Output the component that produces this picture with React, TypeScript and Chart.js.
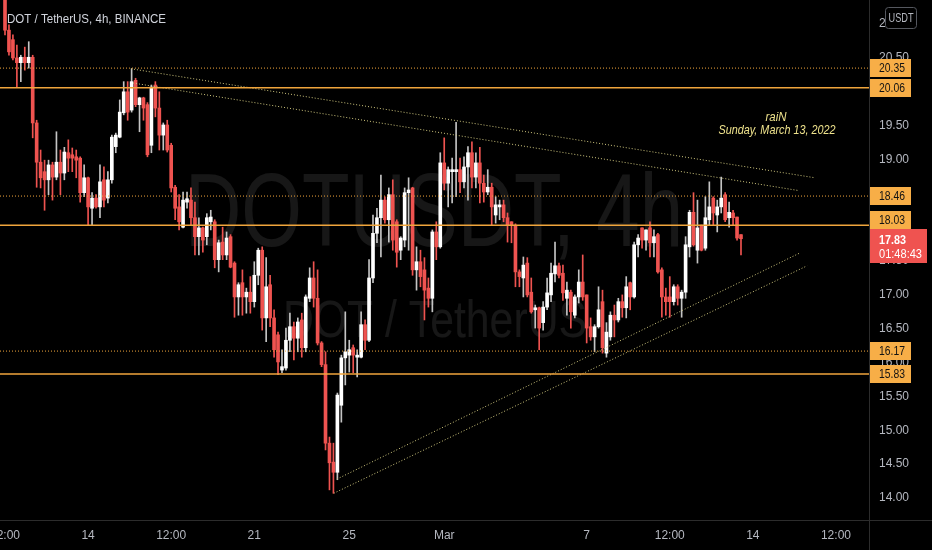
import React, { useEffect, useRef } from "react";
import { Chart, registerables } from "chart.js";

Chart.register(...registerables);

// ---- 4h candles, DOT/USDT (index 0 = Feb 10 12:00) ----
const opens = [
  21.47, 20.91, 20.77, 20.50, 20.43, 20.51, 20.43, 20.51, 19.54, 18.96,
  18.82, 18.70, 18.92, 18.74, 18.96, 18.80, 19.10, 19.07, 19.04, 19.02,
  18.51, 18.73, 18.28, 18.43, 18.30, 18.70, 18.43, 18.70, 19.19, 19.33,
  19.69, 20.00, 19.73, 20.17, 19.81, 19.91, 19.81, 19.21, 20.10, 19.76,
  19.36, 19.51, 19.21, 18.59, 18.30, 18.00, 18.37, 18.40, 18.14, 17.86,
  17.99, 17.86, 18.08, 18.08, 17.52, 17.78, 17.59, 17.86, 17.47, 16.97,
  17.18, 16.97, 17.04, 16.90, 17.29, 17.66, 16.66, 17.15, 16.66, 16.41,
  15.89, 15.92, 16.33, 16.53, 16.36, 16.63, 16.22, 16.95, 17.25, 16.95,
  16.29, 15.97, 14.81, 14.53, 14.38, 15.37, 16.07, 16.11, 16.22, 16.08,
  16.08, 16.56, 16.33, 17.25, 17.91, 18.14, 18.40, 18.11, 18.48, 18.08,
  17.66, 17.81, 18.51, 18.58, 17.37, 17.49, 17.37, 17.10, 16.95, 17.93,
  17.71, 18.95, 18.65, 18.82, 18.82, 18.85, 18.67, 18.89, 19.10, 18.74,
  18.95, 18.65, 18.52, 18.59, 18.18, 18.30, 18.33, 18.14, 18.08, 18.03,
  17.34, 17.25, 17.47, 17.04, 16.78, 16.81, 16.59, 16.82, 17.00, 17.31,
  17.43, 17.32, 16.95, 17.04, 16.70, 16.97, 17.19, 17.00, 16.53, 16.38,
  16.53, 16.90, 16.14, 16.38, 16.70, 16.63, 16.90, 16.81, 17.18, 16.97,
  17.74, 17.99, 17.81, 17.99, 17.77, 17.89, 17.37, 16.97, 16.97, 16.90,
  17.12, 16.95, 17.04, 17.71, 18.22, 17.66, 18.03, 17.69, 18.11, 18.43,
  18.18, 18.30, 18.48, 18.14, 18.21, 18.15, 17.89,
];
const closes = [
  20.91, 20.59, 20.50, 20.43, 20.51, 20.43, 20.51, 19.54, 18.96, 18.73,
  18.70, 18.92, 18.74, 18.96, 18.80, 19.11, 19.02, 19.02, 18.99, 18.51,
  18.73, 18.30, 18.43, 18.30, 18.67, 18.40, 18.70, 19.33, 19.36, 19.70,
  20.00, 19.70, 20.15, 19.81, 19.91, 19.76, 19.07, 20.07, 19.76, 19.36,
  19.51, 19.14, 18.58, 18.28, 18.08, 18.40, 18.42, 18.14, 17.86, 17.99,
  17.81, 18.14, 18.15, 17.52, 17.77, 17.59, 17.84, 17.41, 16.97, 17.15,
  16.97, 17.04, 16.90, 17.29, 17.66, 16.66, 17.12, 16.66, 16.19, 16.01,
  15.94, 16.33, 16.53, 16.36, 16.60, 16.22, 16.97, 17.25, 16.95, 16.29,
  15.97, 14.81, 14.52, 14.38, 15.52, 16.07, 16.16, 16.19, 16.11, 16.11,
  16.56, 16.33, 17.25, 17.91, 18.14, 18.40, 18.11, 18.48, 17.81, 17.63,
  17.84, 18.51, 18.55, 17.37, 17.49, 17.27, 17.07, 16.95, 17.93, 17.71,
  18.95, 18.65, 18.85, 18.85, 18.85, 18.67, 18.89, 19.10, 18.74, 18.95,
  18.65, 18.52, 18.59, 18.30, 18.33, 18.33, 18.14, 18.03, 18.03, 17.34,
  17.27, 17.44, 17.00, 16.75, 16.81, 16.51, 16.82, 17.03, 17.32, 17.43,
  17.29, 17.03, 17.07, 16.75, 16.97, 17.19, 16.97, 16.51, 16.38, 16.53,
  16.78, 16.22, 16.45, 16.70, 16.63, 16.90, 16.81, 17.12, 16.97, 17.74,
  17.84, 17.81, 17.96, 17.77, 17.86, 17.34, 16.97, 16.90, 16.90, 17.12,
  16.95, 17.04, 17.74, 18.22, 17.74, 17.99, 17.66, 18.14, 18.30, 18.21,
  18.30, 18.43, 18.11, 18.22, 18.14, 17.84, 17.83,
];
const highs = [
  21.58, 20.99, 20.84, 20.69, 20.54, 20.66, 20.74, 20.54, 19.58, 19.14,
  18.99, 18.99, 18.96, 19.41, 19.14, 19.18, 19.29, 19.17, 19.14, 19.04,
  18.92, 18.74, 18.51, 18.48, 18.92, 18.89, 18.82, 19.36, 19.39, 19.88,
  20.15, 20.15, 20.34, 20.20, 19.92, 19.92, 19.84, 20.10, 20.15, 20.00,
  19.54, 19.58, 19.24, 18.62, 18.48, 18.52, 18.52, 18.58, 18.37, 18.14,
  18.00, 18.20, 18.25, 18.11, 17.81, 18.00, 17.93, 17.89, 17.49, 17.18,
  17.37, 17.10, 17.27, 17.49, 17.69, 17.71, 17.55, 17.29, 16.78, 16.45,
  16.19, 16.51, 16.73, 16.60, 16.66, 16.73, 17.00, 17.40, 17.49, 17.37,
  16.31, 16.16, 14.90, 14.81, 15.55, 16.11, 16.75, 16.33, 16.26, 16.19,
  16.75, 16.63, 17.52, 18.18, 18.28, 18.77, 18.45, 18.58, 18.70, 18.11,
  17.86, 18.58, 18.73, 18.59, 17.71, 17.66, 17.55, 17.25, 17.96, 18.08,
  19.10, 19.32, 18.89, 19.02, 19.55, 19.02, 19.04, 19.19, 19.26, 19.10,
  19.18, 18.77, 18.85, 18.65, 18.45, 18.40, 18.40, 18.21, 18.08, 18.05,
  17.37, 17.56, 17.55, 17.25, 16.85, 16.82, 16.90, 17.25, 17.47, 17.78,
  17.47, 17.44, 17.19, 17.07, 17.00, 17.37, 17.59, 17.00, 16.66, 16.56,
  17.12, 17.07, 16.59, 16.75, 16.85, 16.95, 17.00, 17.27, 17.19, 17.78,
  17.89, 17.99, 17.96, 18.08, 17.96, 17.91, 17.40, 17.10, 17.27, 17.15,
  17.15, 17.07, 17.86, 18.25, 18.51, 18.40, 18.03, 18.45, 18.67, 18.45,
  18.40, 18.74, 18.51, 18.37, 18.25, 18.15, 17.89,
];
const lows = [
  20.84, 20.54, 20.47, 20.06, 20.15, 20.32, 20.35, 19.32, 18.59, 18.58,
  18.25, 18.48, 18.40, 18.70, 18.48, 18.70, 18.82, 18.82, 18.73, 18.37,
  18.45, 18.03, 18.03, 18.28, 18.14, 18.30, 18.36, 18.65, 19.10, 19.32,
  19.66, 19.58, 19.70, 19.78, 19.41, 19.58, 19.04, 19.10, 19.63, 19.14,
  19.14, 19.11, 18.52, 18.11, 17.96, 17.99, 18.28, 18.03, 17.59, 17.59,
  17.63, 17.74, 17.96, 17.40, 17.34, 17.52, 17.52, 17.40, 16.67, 16.70,
  16.70, 16.73, 16.73, 16.82, 17.15, 16.48, 16.31, 16.53, 16.08, 15.82,
  15.85, 15.89, 16.16, 16.04, 16.16, 16.08, 16.16, 16.90, 16.82, 16.26,
  15.94, 14.71, 14.12, 14.07, 14.27, 15.12, 15.67, 15.86, 15.85, 15.79,
  16.07, 16.19, 16.31, 17.18, 17.77, 17.56, 18.06, 17.78, 17.66, 17.41,
  17.52, 17.71, 17.66, 17.29, 17.07, 17.12, 16.63, 16.82, 16.75, 17.52,
  17.69, 18.55, 18.30, 18.36, 18.45, 18.51, 18.58, 18.40, 18.58, 18.58,
  18.36, 18.37, 18.48, 18.03, 18.06, 18.11, 18.08, 17.78, 17.77, 17.12,
  17.12, 16.97, 16.97, 16.73, 16.51, 16.19, 16.48, 16.78, 16.90, 17.19,
  17.25, 16.92, 16.70, 16.51, 16.66, 16.88, 16.92, 16.29, 16.33, 16.16,
  16.51, 16.14, 16.08, 16.33, 16.38, 16.60, 16.67, 16.66, 16.78, 16.95,
  17.56, 17.69, 17.66, 17.56, 17.56, 17.32, 16.67, 16.70, 16.67, 16.85,
  16.85, 16.67, 16.95, 17.56, 17.72, 17.47, 17.65, 17.66, 18.03, 18.03,
  17.93, 18.21, 18.08, 18.00, 18.03, 17.81, 17.59,
];

// ---- axis ticks ----
const timeTickIndex = [0, 21, 42, 63, 87, 111, 147, 168, 189, 210];
const timeTickText = ["12:00", "14", "12:00", "21", "25", "Mar", "7", "12:00", "14", "12:00"];
const priceTicks = [14, 14.5, 15, 15.5, 16, 16.5, 17, 17.5, 18, 18.5, 19, 19.5, 20, 20.5, 21];

// ---- drawings (index, price) ----
const solidLevels = [20.06, 18.03, 15.83];
const dottedLevels = [20.35, 18.46, 16.17];
const trendUpperA = [[31.84, 20.34], [204.7, 18.73]];
const trendUpperB = [[32.35, 20.13], [200.7, 18.54]];
const trendLowerA = [[83.9, 14.28], [200.9, 17.62]];
const trendLowerB = [[83.1, 14.07], [202.7, 17.43]];

const lastPrice = 17.83;
const countdown = "01:48:43";
const titleText = "DOT / TetherUS, 4h, BINANCE";
const watermarkMain = "DOTUSDT, 4h";
const watermarkSub = "DOT / TetherUS";
const noteAuthor = "raiN";
const noteDate = "Sunday, March 13, 2022";
const currencyText = "USDT";

const X_MIN = -1.264;
const X_MAX = 218.35;
const Y_MIN = 13.675;
const Y_MAX = 21.356;

const BG = "#000000";
const UP = "#ffffff";
const UP_WICK = "#c4c4c4";
const DOWN = "#ef5350";
const ORANGE_LINE = "#f0a53c";
const ORANGE_TAG = "#f7ae47";
const TREND = "#cfc77e";
const TICK = "#b5b8c0";
const SEP = "#2c2c2c";
const NOTE = "#eee28c";
const AXIS_FONT = "'Liberation Sans', sans-serif";
const TEXT_FONT = "'Liberation Sans', sans-serif";

function fitText(ctx: CanvasRenderingContext2D, text: string, x: number, y: number, w: number, align: "left" | "center", baseline: CanvasTextBaseline = "alphabetic") {
  const m = ctx.measureText(text).width || 1;
  ctx.save();
  ctx.translate(x, y);
  ctx.scale(w / m, 1);
  ctx.textAlign = align;
  ctx.textBaseline = baseline;
  ctx.fillText(text, 0, 0);
  ctx.restore();
}

const overlayPlugin = {
  id: "overlay",
  beforeDraw(chart: any) {
    const { ctx, width, height } = chart;
    ctx.save();
    ctx.fillStyle = BG;
    ctx.fillRect(0, 0, width, height);
    ctx.restore();
  },
  beforeDatasetsDraw(chart: any) {
    const ctx = chart.ctx as CanvasRenderingContext2D;
    ctx.save();
    ctx.fillStyle = "rgba(255,255,255,0.09)";
    ctx.font = `103px ${TEXT_FONT}`;
    fitText(ctx, watermarkMain, 185, 246, 498, "left");
    ctx.font = `52px ${TEXT_FONT}`;
    fitText(ctx, watermarkSub, 283, 337, 304, "left");
    ctx.restore();
  },
  afterDraw(chart: any) {
    const ctx = chart.ctx as CanvasRenderingContext2D;
    const yS = chart.scales.y;
    const area = chart.chartArea;
    ctx.save();
    // separators
    ctx.strokeStyle = SEP;
    ctx.lineWidth = 1;
    ctx.beginPath();
    ctx.moveTo(Math.round(area.right) + 0.5, 0);
    ctx.lineTo(Math.round(area.right) + 0.5, chart.height);
    ctx.moveTo(0, Math.round(area.bottom) + 0.5);
    ctx.lineTo(chart.width, Math.round(area.bottom) + 0.5);
    ctx.stroke();

    // title
    ctx.fillStyle = "#d1d4dc";
    ctx.font = `13px ${TEXT_FONT}`;
    fitText(ctx, titleText, 7, 23, 159, "left");

    // note
    ctx.fillStyle = NOTE;
    ctx.font = `italic 13px ${TEXT_FONT}`;
    fitText(ctx, noteAuthor, 776, 121, 21, "center");
    fitText(ctx, noteDate, 777, 133.5, 117, "center");

    // currency box
    ctx.fillStyle = BG;
    ctx.strokeStyle = "#55585f";
    ctx.beginPath();
    (ctx as any).roundRect(885.5, 7.5, 31, 21, 3);
    ctx.fill();
    ctx.stroke();
    ctx.fillStyle = TICK;
    ctx.font = `12px ${AXIS_FONT}`;
    fitText(ctx, currencyText, 901, 18.5, 25, "center", "middle");

    // last price tag geometry
    const left = Math.round(area.right) + 1;
    const yP = yS.getPixelForValue(lastPrice);
    const redTop = yP - 10;
    const redBottom = yP + 24;

    // level tags
    const levels = [...solidLevels, ...dottedLevels];
    ctx.font = `13px ${AXIS_FONT}`;
    levels.forEach((v) => {
      let c = yS.getPixelForValue(v);
      if (c + 9 > redTop && c - 9 < redBottom) {
        c = c < yP + 7 ? redTop - 9 : redBottom + 9;
      }
      ctx.fillStyle = ORANGE_TAG;
      ctx.fillRect(left, Math.round(c - 9), 41, 18);
      ctx.fillStyle = "#131313";
      fitText(ctx, v.toFixed(2), 879, Math.round(c) + 0.5, 26, "left", "middle");
    });

    ctx.fillStyle = DOWN;
    ctx.fillRect(left, Math.round(redTop), 57, 34);
    ctx.fillStyle = "#ffffff";
    ctx.font = `bold 13px ${AXIS_FONT}`;
    fitText(ctx, lastPrice.toFixed(2), 879, Math.round(yP) + 1.5, 27, "left", "middle");
    ctx.font = `13px ${AXIS_FONT}`;
    fitText(ctx, countdown, 879, Math.round(yP) + 15.5, 43, "left", "middle");
    ctx.restore();
  },
};

export default function App() {
  const ref = useRef<HTMLCanvasElement>(null);

  useEffect(() => {
    document.body.style.margin = "0";
    document.body.style.background = BG;
    const canvas = ref.current;
    if (!canvas) return;

    const isUp = closes.map((c, i) => c >= opens[i]);
    const bodyColors = isUp.map((u) => (u ? UP : DOWN));
    const wickColors = isUp.map((u) => (u ? UP_WICK : DOWN));

    const levelLine = (v: number, dotted: boolean) => ({
      type: "line",
      data: [{ x: X_MIN, y: v }, { x: X_MAX, y: v }],
      borderColor: ORANGE_LINE,
      borderWidth: dotted ? 1 : 1.5,
      borderDash: dotted ? [1, 2] : [],
      pointRadius: 0,
      pointHoverRadius: 0,
      fill: false,
      order: 0,
    });
    const trendLine = (pts: number[][]) => ({
      type: "line",
      data: pts.map((p) => ({ x: p[0], y: p[1] })),
      borderColor: TREND,
      borderWidth: 1,
      borderDash: [1, 2],
      pointRadius: 0,
      pointHoverRadius: 0,
      fill: false,
      order: 0,
    });

    const chart = new Chart(canvas, {
      type: "bar",
      data: {
        datasets: [
          {
            label: "wicks",
            data: lows.map((l, i) => ({ x: i, y: [l, highs[i]] })),
            backgroundColor: wickColors,
            borderWidth: 0,
            barThickness: 1,
            grouped: false,
            order: 2,
          },
          {
            label: "bodies",
            data: opens.map((o, i) => ({ x: i, y: [o, closes[i]] })),
            backgroundColor: bodyColors,
            borderWidth: 0,
            barThickness: 3,
            minBarLength: 1,
            grouped: false,
            order: 1,
          },
          ...solidLevels.map((v) => levelLine(v, false)),
          ...dottedLevels.map((v) => levelLine(v, true)),
          trendLine(trendUpperA),
          trendLine(trendUpperB),
          trendLine(trendLowerA),
          trendLine(trendLowerB),
        ] as any,
      },
      options: {
        animation: false,
        responsive: false,
        maintainAspectRatio: false,
        devicePixelRatio: 1,
        events: [],
        layout: { padding: 0 },
        plugins: { legend: { display: false }, tooltip: { enabled: false } },
        scales: {
          x: {
            type: "linear",
            min: X_MIN,
            max: X_MAX,
            offset: false,
            grid: { display: false, drawTicks: false },
            border: { display: false },
            afterBuildTicks: (s: any) => {
              s.ticks = timeTickIndex.map((v) => ({ value: v }));
            },
            afterFit: (s: any) => {
              s.height = 30;
              s.paddingLeft = 0;
              s.paddingRight = 0;
            },
            ticks: {
              autoSkip: false,
              maxRotation: 0,
              minRotation: 0,
              padding: 8,
              color: TICK,
              font: { family: AXIS_FONT, size: 12 },
              callback: (v: any) => {
                const k = timeTickIndex.indexOf(Number(v));
                return k >= 0 ? timeTickText[k] : "";
              },
            },
          },
          y: {
            position: "right",
            min: Y_MIN,
            max: Y_MAX,
            beginAtZero: false,
            grid: { display: false, drawTicks: false },
            border: { display: false },
            afterBuildTicks: (s: any) => {
              s.ticks = priceTicks.map((v) => ({ value: v }));
            },
            afterFit: (s: any) => {
              s.width = 63;
              s.paddingTop = 0;
              s.paddingBottom = 0;
            },
            ticks: {
              padding: 10,
              color: TICK,
              font: { family: AXIS_FONT, size: 12 },
              callback: (v: any) => Number(v).toFixed(2),
            },
          },
        },
      } as any,
      plugins: [overlayPlugin as any],
    });

    return () => chart.destroy();
  }, []);

  return (
    <div style={{ position: "absolute", left: 0, top: 0, width: 932, height: 550, background: BG }}>
      <canvas ref={ref} width={932} height={550} style={{ display: "block", width: 932, height: 550 }} />
    </div>
  );
}
